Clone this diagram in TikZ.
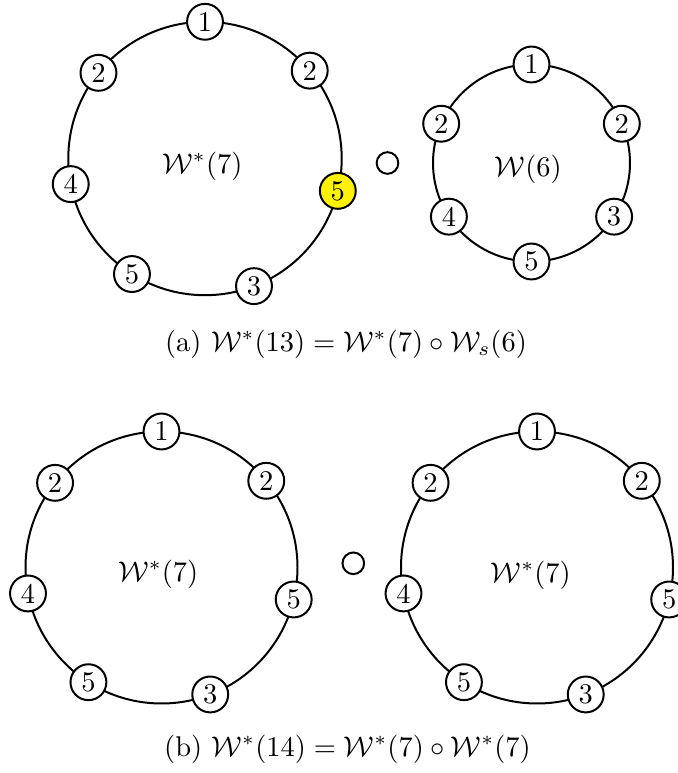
\documentclass[tikz,border=0pt]{standalone}
\usepackage{amsmath}
\begin{document}
\begin{tikzpicture}[x=0.351pt,y=0.351pt,
  ring/.style={line width=0.7pt},
  vnode/.style={circle, draw, line width=0.7pt, fill=white, minimum size=12.6pt, inner sep=0pt},
  hl/.style={fill=yellow},
  opnode/.style={circle, draw, line width=0.7pt, minimum size=7.6pt, inner sep=0pt},
  lbl/.style={inner sep=0pt}]
\useasboundingbox (0,0) rectangle (677,773);
% ---- (a) left: W*(7)
\coordinate (A) at (205,614.5);
\draw[ring] (A) circle[radius=136.7];
\path (A) ++(90:136.7) node[vnode] (a1) {1};
\path (A) ++(40:136.7) node[vnode] (a2) {2};
\path (A) ++(-13.7:136.7) node[vnode,hl] (a3) {5};
\path (A) ++(-69:136.7) node[vnode] (a4) {3};
\path (A) ++(-122.3:136.7) node[vnode] (a5) {5};
\path (A) ++(-169.2:136.7) node[vnode] (a6) {4};
\path (A) ++(141.2:136.7) node[vnode] (a7) {2};
\node[lbl] (alab) at (202.5,607) {$\mathcal{W}^*(7)$};
% operator
\node[opnode] (aop) at (387.5,610) {};
% ---- (a) right: W(6)
\coordinate (B) at (531.5,610);
\draw[ring] (B) circle[radius=98.5];
\path (B) ++(90:98.5) node[vnode] (b1) {1};
\path (B) ++(23.5:98.5) node[vnode] (b2) {2};
\path (B) ++(-33:98.5) node[vnode] (b3) {3};
\path (B) ++(-90:98.5) node[vnode] (b4) {5};
\path (B) ++(-147:98.5) node[vnode] (b5) {4};
\path (B) ++(156.5:98.5) node[vnode] (b6) {2};
\node[lbl] (blab) at (528.3,604) {$\mathcal{W}(6)$};
\node (capa) at (346,429) {(a) $\mathcal{W}^*(13)=\mathcal{W}^*(7)\circ\mathcal{W}_s(6)$};
% ---- (b) left
\coordinate (C) at (161.5,205.5);
\draw[ring] (C) circle[radius=136];
\path (C) ++(90:136) node[vnode] (c1) {1};
\path (C) ++(39.6:136) node[vnode] (c2) {2};
\path (C) ++(-13.6:136) node[vnode] (c3) {5};
\path (C) ++(-69:136) node[vnode] (c4) {3};
\path (C) ++(-122.5:136) node[vnode] (c5) {5};
\path (C) ++(-169:136) node[vnode] (c6) {4};
\path (C) ++(141.5:136) node[vnode] (c7) {2};
\node[lbl] (clab) at (158.3,199) {$\mathcal{W}^*(7)$};
\node[opnode] (bop) at (353.3,209.7) {};
% ---- (b) right
\coordinate (D) at (537,205.5);
\draw[ring] (D) circle[radius=136];
\path (D) ++(90:136) node[vnode] (d1) {1};
\path (D) ++(39.6:136) node[vnode] (d2) {2};
\path (D) ++(-13.6:136) node[vnode] (d3) {5};
\path (D) ++(-69:136) node[vnode] (d4) {3};
\path (D) ++(-122.5:136) node[vnode] (d5) {5};
\path (D) ++(-169:136) node[vnode] (d6) {4};
\path (D) ++(141.5:136) node[vnode] (d7) {2};
\node[lbl] (dlab) at (530.8,198) {$\mathcal{W}^*(7)$};
\node (capb) at (347.5,24) {(b) $\mathcal{W}^*(14)=\mathcal{W}^*(7)\circ\mathcal{W}^*(7)$};
\end{tikzpicture}
\end{document}
